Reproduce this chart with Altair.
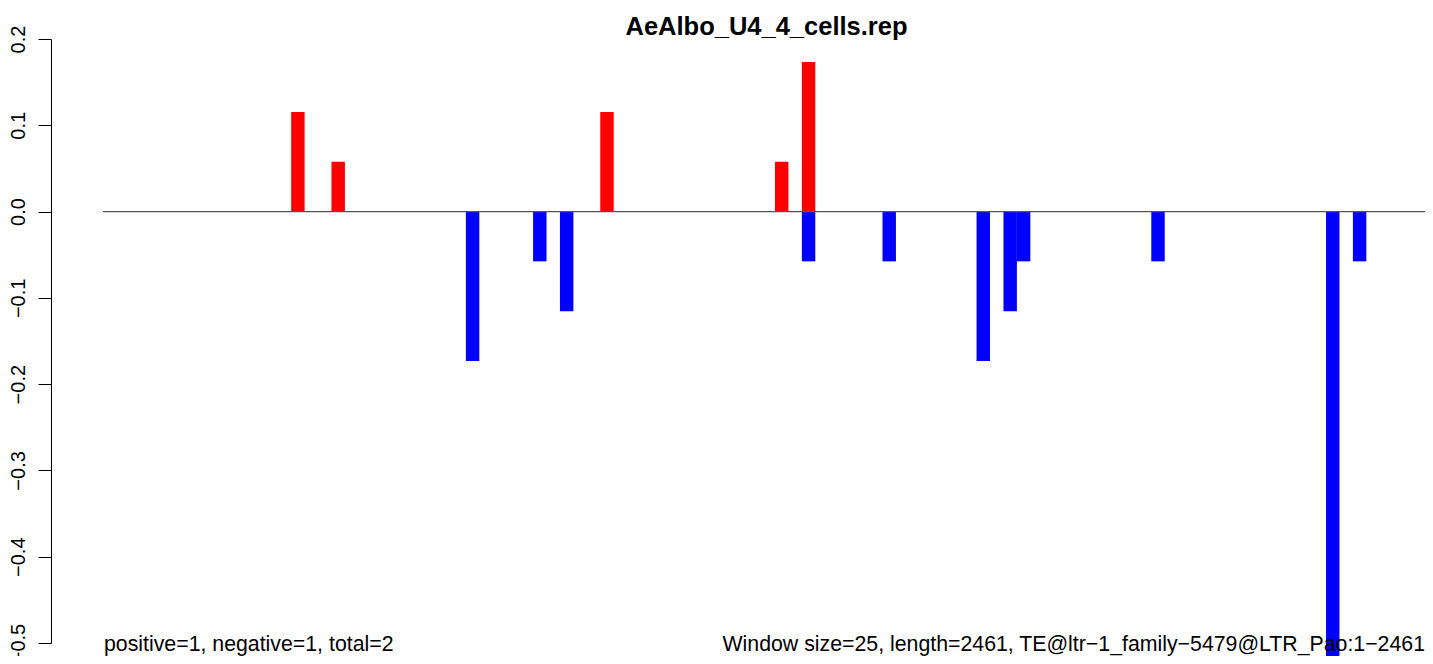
import altair as alt
import pandas as pd

# Window indices (window size 25 bp) and enrichment values
window_size = 25
seq_length = 2461
pos_windows = [14, 17, 37, 50, 52]
pos_values = [0.1155, 0.0577, 0.1155, 0.0577, 0.1732]
neg_windows = [27, 32, 34, 52, 58, 65, 67, 68, 78, 91, 93]
neg_values = [-0.1732, -0.0577, -0.1155, -0.0577, -0.0577, -0.1732,
              -0.1155, -0.0577, -0.0577, -0.5774, -0.0577]
y_ticks = [0.2, 0.1, 0.0, -0.1, -0.2, -0.3, -0.4, -0.5]

title_text = "AeAlbo_U4_4_cells.rep"
left_note = "positive=1, negative=1, total=2"
right_note = "Window size=25, length=2461, TE@ltr\u22121_family\u22125479@LTR_Pao:1\u22122461"

rows = []
for w, v in zip(pos_windows, pos_values):
    rows.append({"start": w * window_size, "end": (w + 1) * window_size, "value": v, "sign": "pos"})
for w, v in zip(neg_windows, neg_values):
    rows.append({"start": w * window_size, "end": (w + 1) * window_size, "value": v, "sign": "neg"})
df = pd.DataFrame(rows)

# visible plot area is 1 px short of the full sequence extent so the page fits
W, H = 1322, 604
FULL_W = 1323
FONT = "Liberation Sans"

xscale = alt.Scale(domain=[0, seq_length * W / FULL_W], nice=False, zero=False)
yscale = alt.Scale(domain=[-0.5, 0.2], nice=False, zero=False)

bars = alt.Chart(df).mark_bar(clip=False).encode(
    x=alt.X("start:Q", scale=xscale, axis=None),
    x2="end:Q",
    y=alt.Y("value:Q", scale=yscale,
            axis=alt.Axis(values=y_ticks, format=".1f", title=None, grid=False,
                          offset=52, tickSize=13, tickColor="black", domainColor="black",
                          tickWidth=1, domainWidth=1,
                          labelAngle=270, labelAlign="center", labelBaseline="bottom",
                          labelPadding=10, labelFont=FONT, labelFontSize=20,
                          labelColor="black", labelFlush=False, labelOverlap=False)),
    y2=alt.datum(0),
    color=alt.Color("sign:N", scale=alt.Scale(domain=["pos", "neg"], range=["#ff0000", "#0000ff"]),
                    legend=None),
)

zero = alt.Chart(pd.DataFrame({"v": [0.0]})).mark_rule(color="#555555", strokeWidth=1.2).encode(
    y=alt.Y("v:Q", scale=yscale),
    x=alt.value(0),
    x2=alt.value(W + 10),
)

title = alt.Chart(pd.DataFrame({"t": [title_text]})).mark_text(
    font=FONT, fontSize=25.5, fontWeight="bold", align="center", baseline="alphabetic", color="black"
).encode(text="t:N", x=alt.value(FULL_W / 2 + 2), y=alt.value(-4))

left = alt.Chart(pd.DataFrame({"t": [left_note]})).mark_text(
    font=FONT, fontSize=21.3, align="left", baseline="alphabetic", color="black"
).encode(text="t:N", x=alt.value(1), y=alt.value(H + 8))

right = alt.Chart(pd.DataFrame({"t": [right_note]})).mark_text(
    font=FONT, fontSize=21.3, align="right", baseline="alphabetic", color="black"
).encode(text="t:N", x=alt.value(W), y=alt.value(H + 8))

chart = alt.layer(bars, zero, title, left, right).properties(
    width=W, height=H,
    autosize=alt.AutoSizeParams(type="none"),
    padding={"left": 95, "top": 31, "right": 0, "bottom": 13},
).configure_view(stroke=None)

chart.save("out.html", embed_options={"renderer": "svg", "actions": False})
